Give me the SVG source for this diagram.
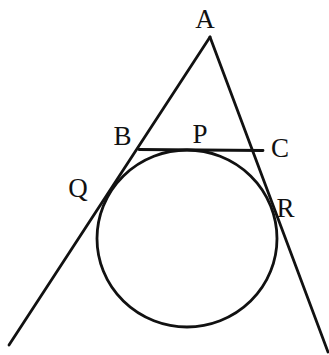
<svg xmlns="http://www.w3.org/2000/svg" width="329" height="355" viewBox="0 0 329 355">
<style>
.ln{stroke:#111;stroke-width:2.8;fill:none;stroke-linecap:round}
.lb{font-family:"Liberation Serif","Times New Roman",serif;font-size:27px;fill:#111;text-anchor:middle}
</style>
<rect width="329" height="355" fill="#fff"/>
<g id="connectors">
<line class="ln" x1="210" y1="37" x2="9" y2="345"/>
<line class="ln" x1="210" y1="37" x2="328" y2="352"/>
<line class="ln" x1="139" y1="149.5" x2="263" y2="150.5"/>
</g>
<g id="circle"><ellipse class="ln" cx="187" cy="238.5" rx="90" ry="88.5"/></g>
<g id="A"><text class="lb" x="205" y="28">A</text></g>
<g id="B"><text class="lb" x="122.5" y="145">B</text></g>
<g id="P"><text class="lb" x="200" y="143">P</text></g>
<g id="C"><text class="lb" x="280" y="157">C</text></g>
<g id="Q"><text class="lb" x="78" y="197">Q</text></g>
<g id="R"><text class="lb" x="285.5" y="217">R</text></g>
</svg>
